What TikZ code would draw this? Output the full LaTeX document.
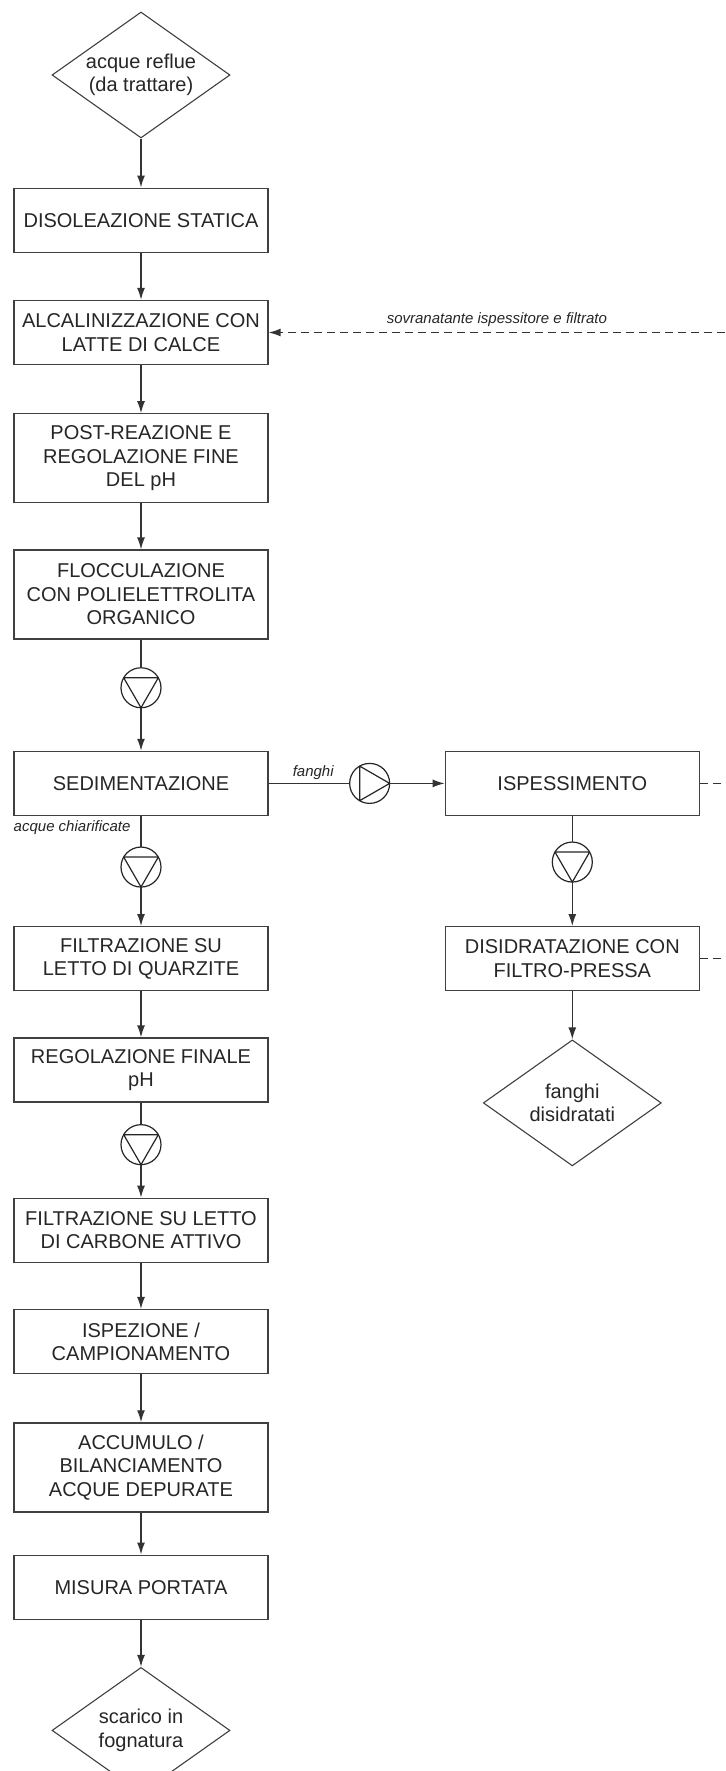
\documentclass[tikz,border=0pt]{standalone}
\usepackage{fontspec}
\setmainfont{Liberation Sans}
\usepackage{tikz}
\usetikzlibrary{positioning}
\usetikzlibrary{shapes.geometric,arrows.meta}

\begin{document}
\begin{tikzpicture}[
  x=1pt, y=1pt,
  every node/.style={font=\fontsize{20pt}{23.5pt}\selectfont, text=black!85},
  stepbox/.style={draw=black!75, line width=1.3pt, minimum width=254pt, minimum height=64pt, inner sep=2pt, align=center},
  tallbox/.style={stepbox, minimum height=89pt},
  terminal/.style={diamond, draw=black!75, line width=1.1pt, minimum width=178pt, minimum height=126pt, inner sep=0pt, aspect=1.4, align=center},
  pump/.style={circle, draw=black!85, line width=1.2pt, minimum size=40pt, inner sep=0pt, outer sep=0pt},
  impeller/.style={draw=black!85, line width=1.2pt, line join=round},
  lbl/.style={font=\fontsize{15pt}{17pt}\selectfont\itshape},
  flow/.style={draw=black!80, line width=1.4pt},
  back/.style={flow, dash pattern=on 8pt off 5pt},
  >={Latex[length=12pt, width=8pt]}
]
\fill[white] (0,0) rectangle (725,-1771);
\useasboundingbox (0,0) rectangle (725,-1771);

% linea acque
\node[terminal] (reflue) at (141,-75) {acque reflue\\(da trattare)};
\node[stepbox, below=49pt of reflue] (disol) {DISOLEAZIONE STATICA};
\node[stepbox, below=47pt of disol] (alcal) {ALCALINIZZAZIONE CON\\LATTE DI CALCE};
\node[tallbox, below=48pt of alcal] (postreaz) {POST-REAZIONE E\\REGOLAZIONE FINE\\DEL pH};
\node[tallbox, below=46pt of postreaz] (flocc) {FLOCCULAZIONE\\CON POLIELETTROLITA\\ORGANICO};
\node[pump, below=28pt of flocc] (pa) {};
\node[stepbox, below=43pt of pa] (sedim) {SEDIMENTAZIONE};
\node[pump, below=31pt of sedim] (pb) {};
\node[stepbox, below=39pt of pb] (quarz) {FILTRAZIONE SU\\LETTO DI QUARZITE};
\node[stepbox, below=46pt of quarz] (regfin) {REGOLAZIONE FINALE\\pH};
\node[pump, below=22pt of regfin] (pc) {};
\node[stepbox, below=33pt of pc] (carbone) {FILTRAZIONE SU LETTO\\DI CARBONE ATTIVO};
\node[stepbox, below=46pt of carbone] (ispez) {ISPEZIONE /\\CAMPIONAMENTO};
\node[tallbox, below=48pt of ispez] (accumulo) {ACCUMULO /\\BILANCIAMENTO\\ACQUE DEPURATE};
\node[stepbox, below=42pt of accumulo] (misura) {MISURA PORTATA};
\node[terminal, below=47pt of misura] (scarico) {scarico in\\fognatura};

% linea fanghi
\node[pump, right=81pt of sedim] (pf) {};
\node[stepbox, right=55pt of pf] (ispess) {ISPESSIMENTO};
\node[pump, below=26pt of ispess] (pd) {};
\node[stepbox, below=44pt of pd] (disidr) {DISIDRATAZIONE CON\\FILTRO-PRESSA};
\node[terminal, below=48pt of disidr] (fanghi) {fanghi\\disidratati};

% giranti delle pompe
\foreach \p in {pa,pb,pc,pd}
  \draw[impeller] (\p.150) -- (\p.30) -- (\p.270) -- cycle;
\draw[impeller] (pf.120) -- (pf.240) -- (pf.0) -- cycle;

\draw[flow,->] (reflue) -- (disol);
\draw[flow,->] (disol) -- (alcal);
\draw[flow,->] (alcal) -- (postreaz);
\draw[flow,->] (postreaz) -- (flocc);
\draw[flow] (flocc) -- (pa);
\draw[flow,->] (pa) -- (sedim);
\draw[flow] (sedim) -- (pb);
\node[lbl, below left=1pt and 7pt of sedim.south] (chiar) {acque chiarificate};
\draw[flow,->] (pb) -- (quarz);
\draw[flow,->] (quarz) -- (regfin);
\draw[flow] (regfin) -- (pc);
\draw[flow,->] (pc) -- (carbone);
\draw[flow,->] (carbone) -- (ispez);
\draw[flow,->] (ispez) -- (accumulo);
\draw[flow,->] (accumulo) -- (misura);
\draw[flow,->] (misura) -- (scarico);

\draw[flow] (sedim) -- node[lbl, above, pos=0.55]{fanghi} (pf);
\draw[flow,->] (pf) -- (ispess);
\draw[flow] (ispess) -- (pd);
\draw[flow,->] (pd) -- (disidr);
\draw[flow,->] (disidr) -- (fanghi);

% ricircolo
\coordinate (edge) at (725,0);
\coordinate (ret) at (alcal.east -| edge);
\coordinate (ispessout) at (ispess.east -| edge);
\coordinate (disidrout) at (disidr.east -| edge);
\draw[back,->] (ret) -- node[lbl, above=2pt]{sovranatante ispessitore e filtrato} (alcal.east);
\draw[back] (ispess.east) -- (ispessout);
\draw[back] (disidr.east) -- (disidrout);
\end{tikzpicture}
\end{document}
